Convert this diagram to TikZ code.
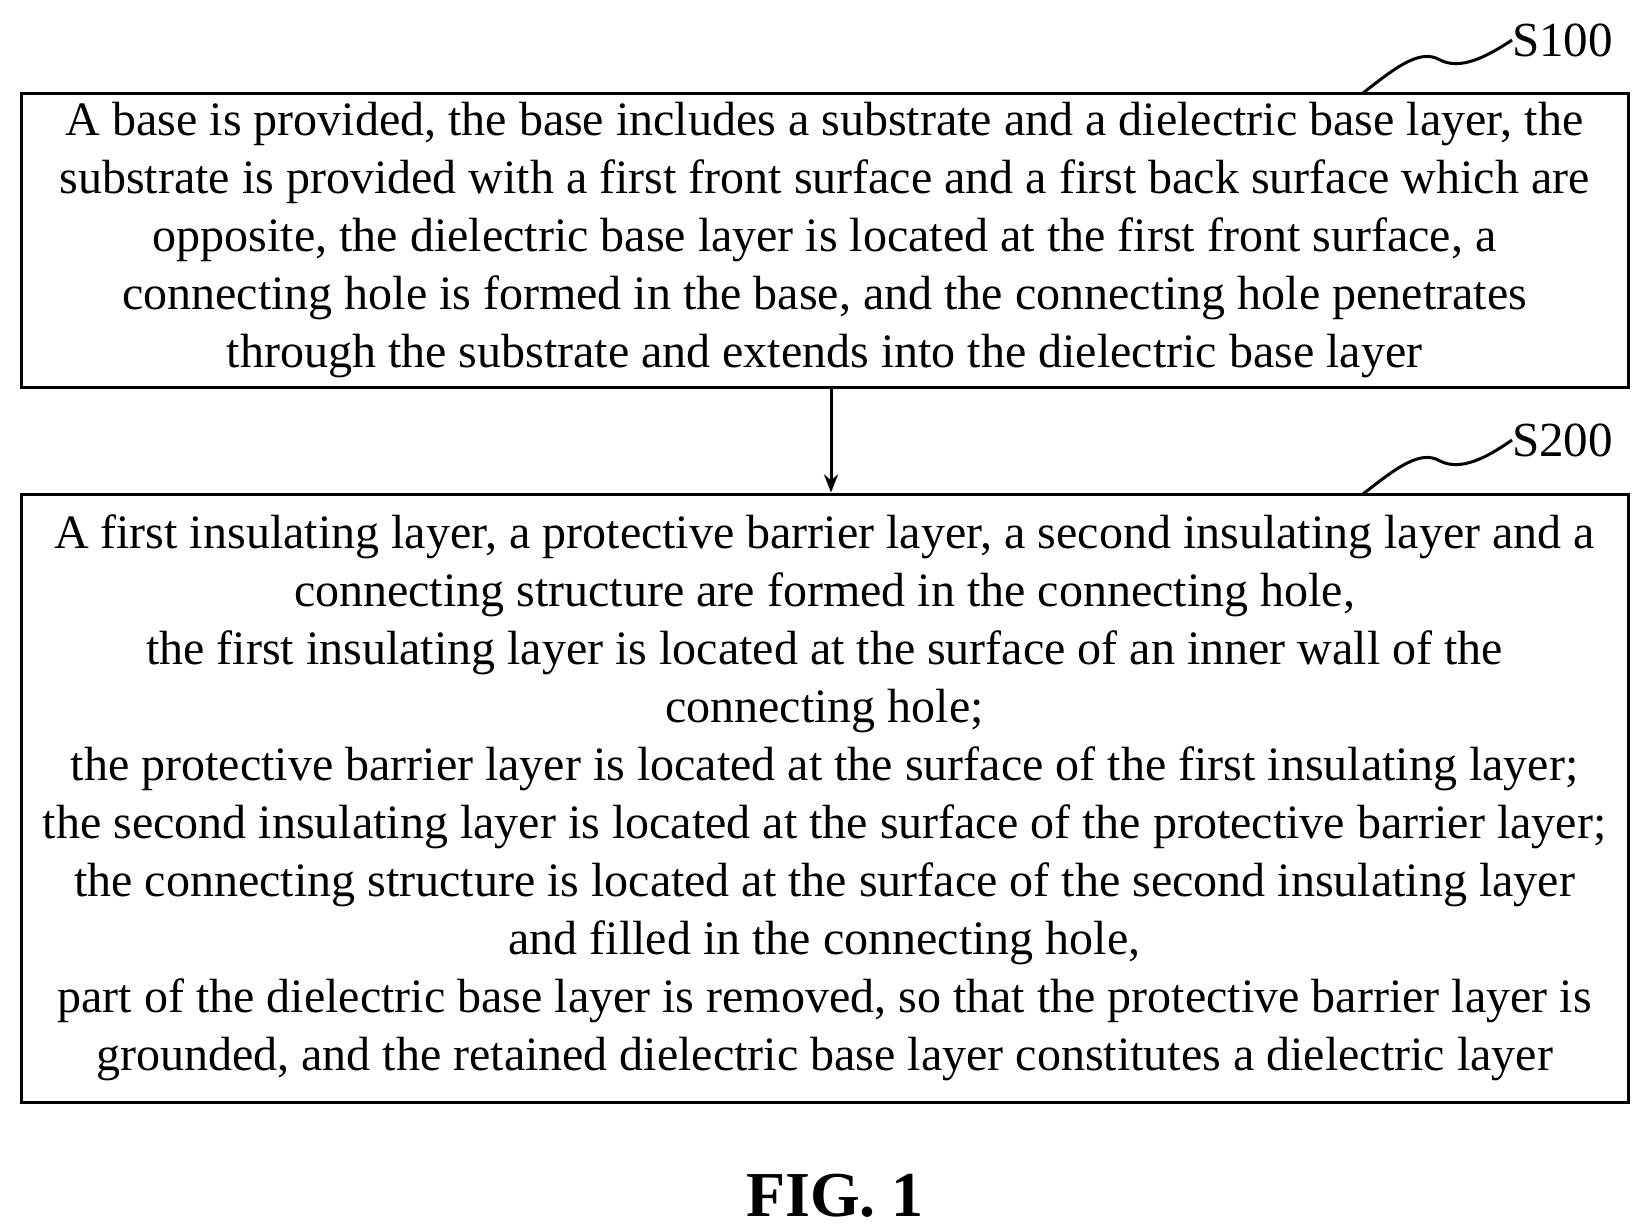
\documentclass[tikz,border=0pt]{standalone}
\usepackage{fontspec}
\setmainfont{Liberation Serif}
\usetikzlibrary{arrows.meta}
\usetikzlibrary{positioning}

\tikzset{
  stepbox/.style={draw, line width=3pt, align=center, inner sep=0pt,
               font=\fontsize{48pt}{58pt}\selectfont},
  tag/.style={font=\fontsize{49pt}{52pt}\selectfont, anchor=west, inner sep=0pt},
  squiggle/.style={line width=3pt},
}

\begin{document}
\begin{tikzpicture}[x=1pt, y=-1pt]
\useasboundingbox (0,0) rectangle (1649,1231);
% step boxes
\node[stepbox, minimum width=1607pt, minimum height=294pt] (s100) at (824.5,240)
  {A base is provided, the base includes a substrate and a dielectric base layer, the\\
   substrate is provided with a first front surface and a first back surface which are\\
   opposite, the dielectric base layer is located at the first front surface, a\\
   connecting hole is formed in the base, and the connecting hole penetrates\\
   through the substrate and extends into the dielectric base layer};
\node[stepbox, minimum width=1607pt, minimum height=608pt] (s200) at (824.5,798)
  {A first insulating layer, a protective barrier layer, a second insulating layer and a\\
   connecting structure are formed in the connecting hole,\\
   the first insulating layer is located at the surface of an inner wall of the\\
   connecting hole;\\
   the protective barrier layer is located at the surface of the first insulating layer;\\
   the second insulating layer is located at the surface of the protective barrier layer;\\
   the connecting structure is located at the surface of the second insulating layer\\
   and filled in the connecting hole,\\
   part of the dielectric base layer is removed, so that the protective barrier layer is\\
   grounded, and the retained dielectric base layer constitutes a dielectric layer};
\draw[line width=3pt, -{Stealth[length=18pt, width=14pt]}] (s100.south -| 831,0) -- (s200.north -| 831,0);
% labels
\node[tag] (t100) at (1512,40) {S100};
\node[tag] (t200) at (1512,440) {S200};
\coordinate (c100) at (1363,93);
\coordinate (c200) at (1363,494);
\draw[squiggle] (c100) .. controls (1395,68) and (1420,48) .. (1440,60)
                       .. controls (1460,70) and (1485,58) .. (t100.west);
\draw[squiggle] (c200) .. controls (1395,469) and (1420,449) .. (1440,461)
                       .. controls (1460,471) and (1485,459) .. (t200.west);
\node[font=\bfseries\fontsize{64pt}{70pt}\selectfont] (fig) at (835,1196) {FIG. 1};
\end{tikzpicture}
\end{document}
